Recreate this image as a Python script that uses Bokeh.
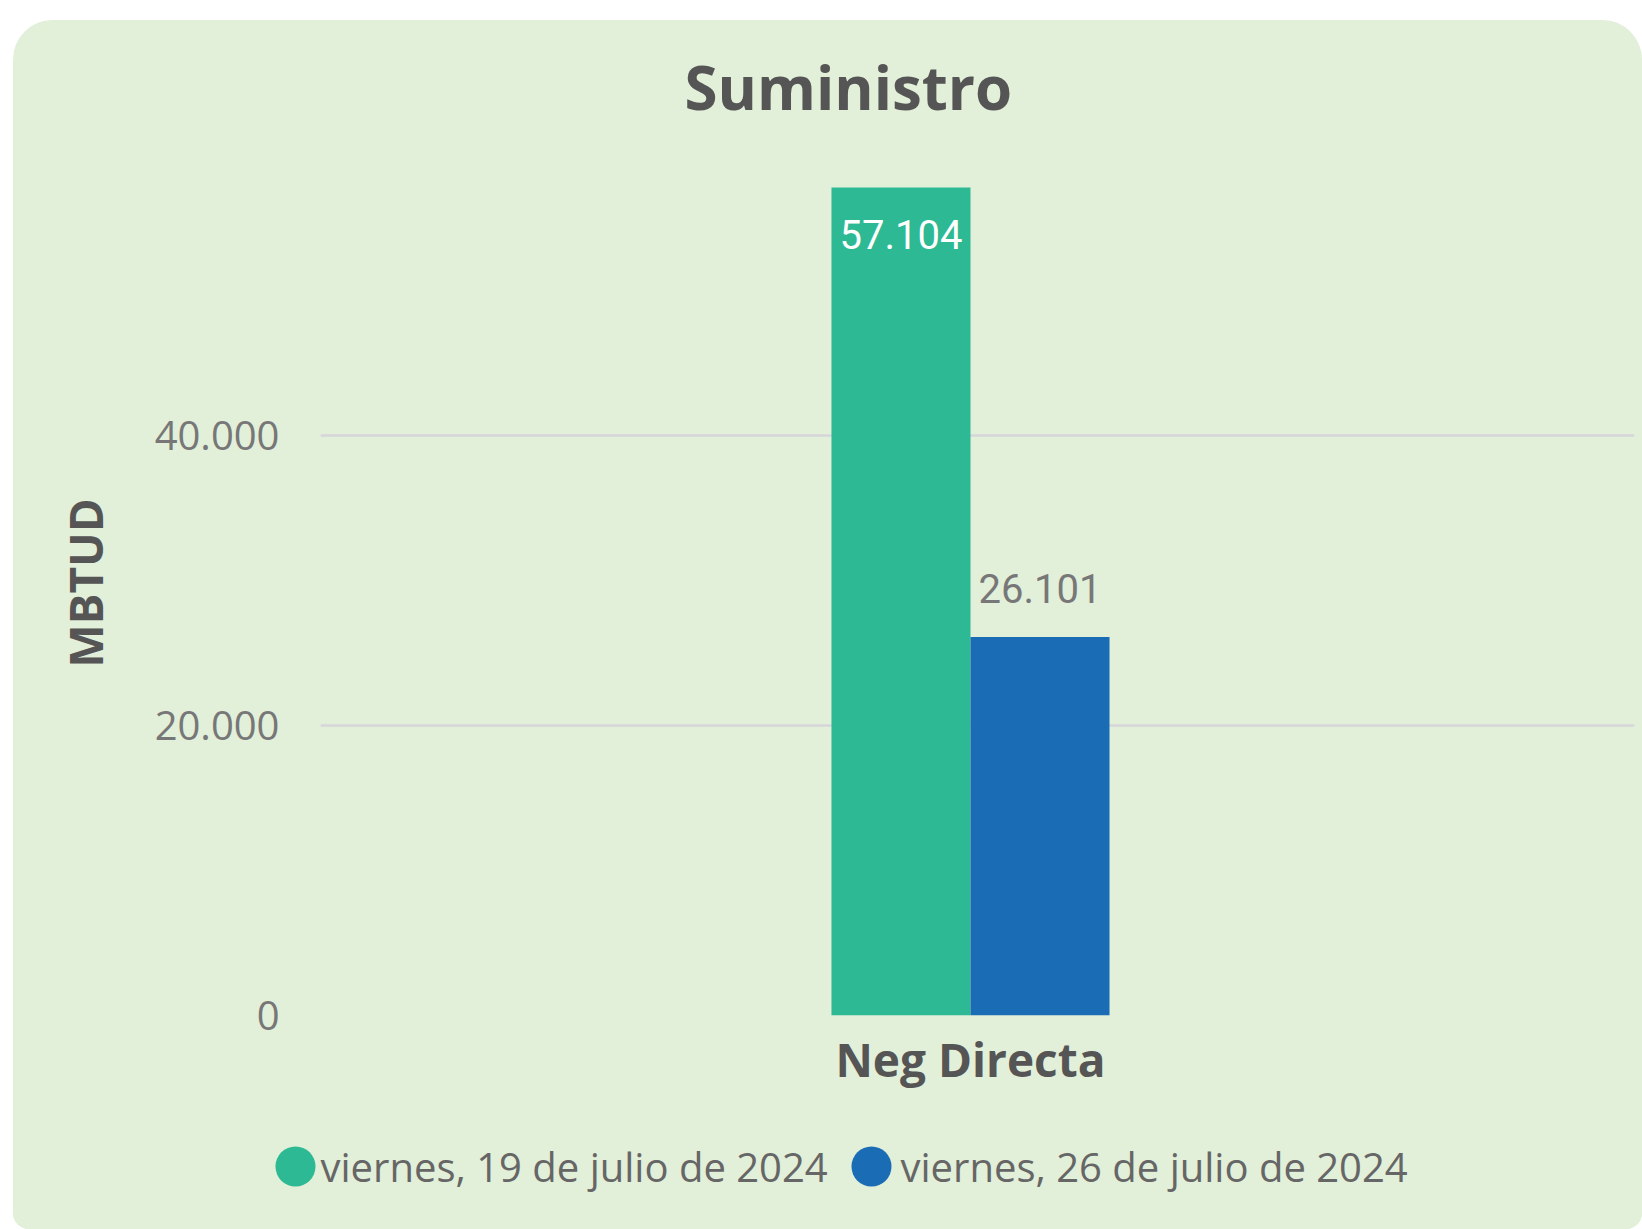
from bokeh.plotting import figure
from bokeh.layouts import column
from bokeh.models import ColumnDataSource, Range1d, FixedTicker
from bokeh.transform import dodge
from bokeh.core.properties import value
from bokeh.embed import file_html
from bokeh.resources import INLINE

# ---- data ----
categories = ["Neg Directa"]
series_names = ["viernes, 19 de julio de 2024", "viernes, 26 de julio de 2024"]
values_19 = [57104]
values_26 = [26101]
y_ticks = [0, 20000, 40000]
y_tick_labels = ["0", "20.000", "40.000"]
title_text = "Suministro"
y_axis_title = "MBTUD"

colors = ["#2CB993", "#1A6DB5"]
BG = "#E2EFD9"
FONT = "Open Sans"


def fmt(v):
    return f"{v:,}".replace(",", ".")


src = ColumnDataSource(dict(
    x=list(range(len(categories))),
    v19=values_19,
    v26=values_26,
    l19=[fmt(v) for v in values_19],
    l26=[fmt(v) for v in values_26],
))

bar_w = 0.1058
off = bar_w / 2

p = figure(width=1629, height=1080, output_backend="svg", toolbar_location=None,
           x_range=Range1d(-0.49467, 0.50533), y_range=Range1d(0, 59655),
           min_border_left=307, min_border_right=8, min_border_top=130, min_border_bottom=85,
           background_fill_color=BG, border_fill_color=BG, outline_line_color=None)
p.frame_align = False

# title
p.title.text = title_text
p.title.align = "left"
p.title.offset = 364
p.title.standoff = 46
p.title.text_font = FONT
p.title.text_font_style = "bold"
p.title.text_font_size = "60px"
p.title.text_color = "#555555"

p.vbar(x=dodge("x", -off), top="v19", width=bar_w, source=src, fill_color=colors[0], line_color=None)
p.vbar(x=dodge("x", off), top="v26", width=bar_w, source=src, fill_color=colors[1], line_color=None)

p.text(x=dodge("x", -off), y="v19", text="l19", source=src, text_align="center",
       text_baseline="alphabetic", y_offset=47, text_color="white",
       text_font=value("Roboto"), text_font_size="40px")
p.text(x=dodge("x", off), y="v26", text="l26", source=src, text_align="center",
       text_baseline="alphabetic", y_offset=-49, text_color="#777777",
       text_font=value("Roboto"), text_font_size="40px")

# axes
for ax in (p.xaxis[0], p.yaxis[0]):
    ax.axis_line_color = None
    ax.major_tick_line_color = None
    ax.minor_tick_line_color = None
    ax.major_tick_out = 0
    ax.major_tick_in = 0

p.yaxis.ticker = FixedTicker(ticks=y_ticks)
p.yaxis.major_label_overrides = dict(zip(y_ticks, y_tick_labels))
p.yaxis.major_label_text_font = FONT
p.yaxis.major_label_text_font_size = "40px"
p.yaxis.major_label_text_color = "#777777"
p.yaxis.major_label_standoff = 41
p.yaxis.axis_label = y_axis_title
p.yaxis.axis_label_text_font = FONT
p.yaxis.axis_label_text_font_style = "bold"
p.yaxis.axis_label_text_font_size = "46px"
p.yaxis.axis_label_text_color = "#555555"
p.yaxis.axis_label_standoff = 36

xt = list(range(len(categories)))
p.xaxis.ticker = FixedTicker(ticks=xt)
p.xaxis.major_label_overrides = dict(zip(xt, categories))
p.xaxis.major_label_text_font = FONT
p.xaxis.major_label_text_font_style = "bold"
p.xaxis.major_label_text_font_size = "46px"
p.xaxis.major_label_text_color = "#555555"
p.xaxis.major_label_standoff = 12

p.xgrid.visible = False
p.ygrid.ticker = FixedTicker(ticks=y_ticks)
p.ygrid.grid_line_color = "#D6D6DA"
p.ygrid.grid_line_width = 2.5

# ---- legend strip (pixel-unit ranges; positions are layout, not data) ----
LEG_H = 129
lf = figure(width=1629, height=LEG_H, output_backend="svg", toolbar_location=None,
            x_axis_location=None, y_axis_location=None,
            x_range=Range1d(0, 1629), y_range=Range1d(0, LEG_H),
            min_border=0, background_fill_color=BG, border_fill_color=BG, outline_line_color=None)
lf.frame_align = False
lf.grid.visible = False
lf.title.visible = False

legend_swatch_x = [282, 858]
legend_label_x = [307, 887]
swatch_y = LEG_H - 66
label_y = LEG_H - 66

leg_src = ColumnDataSource(dict(sx=legend_swatch_x, tx=legend_label_x,
                                sy=[swatch_y] * len(series_names), ty=[label_y] * len(series_names),
                                name=series_names, color=colors))
lf.scatter(x="sx", y="sy", source=leg_src, size=40, marker="circle",
           fill_color="color", line_color=None)
lf.text(x="tx", y="ty", text="name", source=leg_src, text_align="left",
        text_baseline="alphabetic", text_color="#666666",
        text_font=value(FONT), text_font_size="40px")

layout = column(p, lf, spacing=0)
layout.margin = (20, 0, 0, 13)
layout.styles = {"border-radius": "40px 40px 16px 16px", "overflow": "hidden",
                 "background-color": BG}

open("out.html", "w").write(file_html(layout, INLINE))
